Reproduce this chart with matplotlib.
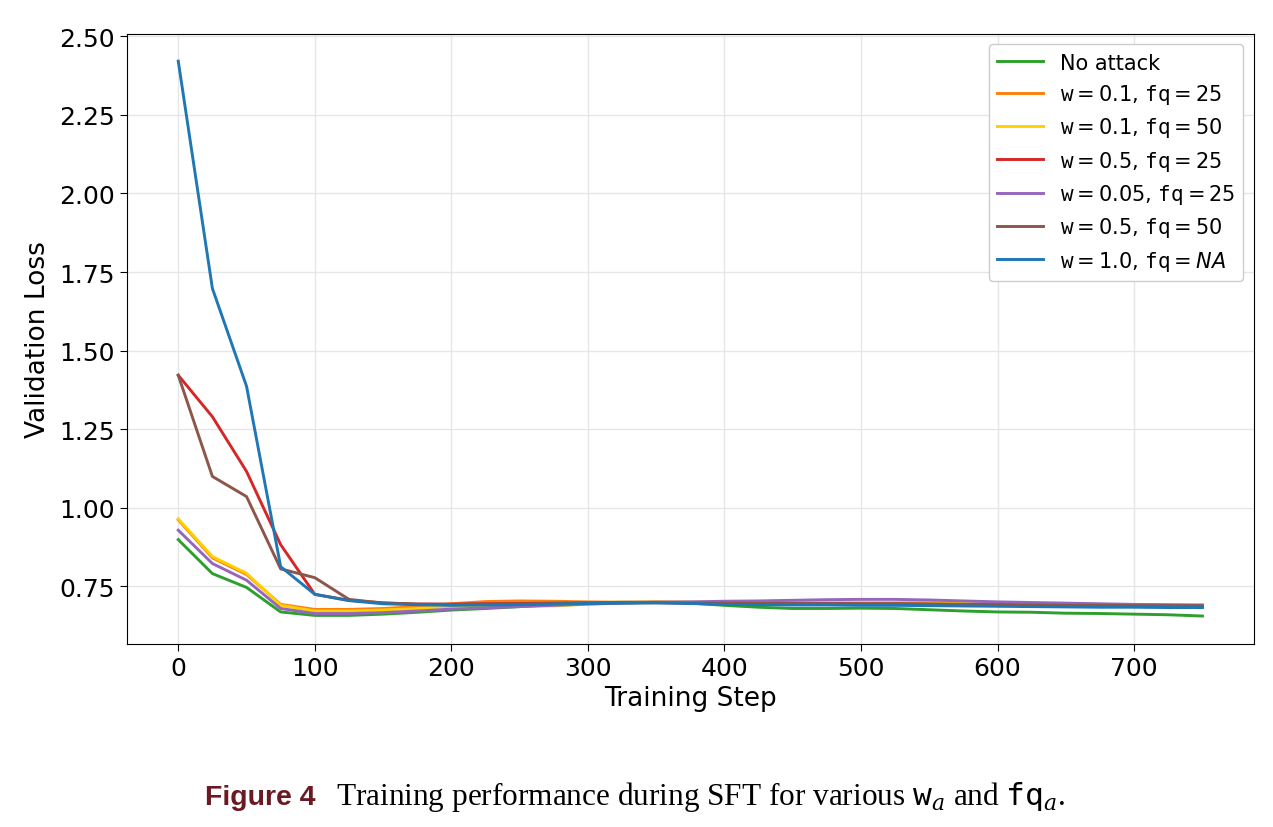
import matplotlib
matplotlib.use("Agg")
import matplotlib.pyplot as plt

steps = list(range(0, 751, 25))

labels = [
    "No attack",
    r"$\mathtt{w}=0.1$, $\mathtt{fq}=25$",
    r"$\mathtt{w}=0.1$, $\mathtt{fq}=50$",
    r"$\mathtt{w}=0.5$, $\mathtt{fq}=25$",
    r"$\mathtt{w}=0.05$, $\mathtt{fq}=25$",
    r"$\mathtt{w}=0.5$, $\mathtt{fq}=50$",
    r"$\mathtt{w}=1.0$, $\mathtt{fq}=NA$",
]
colors = ["#2ca02c", "#ff7f0e", "#ffd000", "#d62728", "#9467bd", "#8c564b", "#1f77b4"]

no_attack = [0.899, 0.791, 0.747, 0.669, 0.658, 0.658, 0.662, 0.668, 0.675, 0.680, 0.686,
             0.692, 0.697, 0.700, 0.700, 0.697, 0.690, 0.684, 0.680, 0.680, 0.681, 0.680,
             0.676, 0.672, 0.669, 0.668, 0.665, 0.664, 0.662, 0.660, 0.656]
w01_fq25 = [0.962, 0.841, 0.788, 0.693, 0.677, 0.677, 0.680, 0.686, 0.695, 0.702, 0.704,
            0.703, 0.701, 0.700, 0.701, 0.700, 0.699, 0.699, 0.699, 0.699, 0.699, 0.699,
            0.698, 0.696, 0.694, 0.693, 0.692, 0.691, 0.690, 0.690, 0.690]
w01_fq50 = [0.965, 0.845, 0.792, 0.690, 0.672, 0.672, 0.675, 0.680, 0.686, 0.688, 0.689,
            0.688, 0.694, 0.698, 0.700, 0.700, 0.700, 0.700, 0.701, 0.701, 0.700, 0.699,
            0.698, 0.696, 0.694, 0.693, 0.692, 0.691, 0.690, 0.690, 0.689]
w05_fq25 = [1.422, 1.290, 1.116, 0.883, 0.725, 0.706, 0.698, 0.694, 0.694, 0.695, 0.696,
            0.697, 0.698, 0.699, 0.699, 0.698, 0.697, 0.697, 0.696, 0.696, 0.695, 0.695,
            0.694, 0.693, 0.692, 0.691, 0.690, 0.689, 0.688, 0.688, 0.688]
w005_fq25 = [0.929, 0.823, 0.770, 0.680, 0.664, 0.664, 0.667, 0.672, 0.678, 0.682, 0.686,
             0.690, 0.694, 0.697, 0.700, 0.701, 0.703, 0.704, 0.706, 0.708, 0.709, 0.709,
             0.707, 0.704, 0.701, 0.699, 0.697, 0.695, 0.693, 0.692, 0.691]
w05_fq50 = [1.422, 1.100, 1.036, 0.806, 0.778, 0.709, 0.697, 0.694, 0.693, 0.694, 0.695,
            0.696, 0.697, 0.698, 0.698, 0.697, 0.697, 0.696, 0.696, 0.696, 0.695, 0.695,
            0.694, 0.693, 0.692, 0.691, 0.690, 0.690, 0.689, 0.689, 0.689]
w10_fqNA = [2.421, 1.698, 1.387, 0.813, 0.725, 0.705, 0.695, 0.692, 0.690, 0.691, 0.692,
            0.694, 0.696, 0.697, 0.698, 0.696, 0.693, 0.692, 0.691, 0.691, 0.690, 0.690,
            0.689, 0.688, 0.687, 0.686, 0.685, 0.684, 0.684, 0.683, 0.683]

series = [no_attack, w01_fq25, w01_fq50, w05_fq25, w005_fq25, w05_fq50, w10_fqNA]
yticks = [0.75, 1.00, 1.25, 1.50, 1.75, 2.00, 2.25, 2.50]

fig = plt.figure(figsize=(12.73, 8.28), dpi=100)
ax = fig.add_axes([0.0998, 0.221, 0.885, 0.737])

for vals, lab, col in zip(series, labels, colors):
    ax.plot(steps, vals, color=col, lw=2.1, label=lab)

ax.set_xticks(range(0, 701, 100))
ax.set_yticks(yticks)
ax.set_yticklabels([f"{v:.2f}" for v in yticks])
ax.tick_params(labelsize=18, length=5)
ax.set_xlabel("Training Step", fontsize=19, labelpad=4)
ax.set_ylabel("Validation Loss", fontsize=19, labelpad=6)
ax.grid(True, color="#e6e6e6", lw=1)
ax.set_axisbelow(True)
ax.set_ylim(0.567, 2.508)
ax.legend(loc="upper right", fontsize=15, framealpha=1, edgecolor="#cccccc",
          handlelength=2.2, labelspacing=0.45, borderaxespad=0.5)

fig.text(0.161, 0.028, "Figure 4", fontsize=20.5, fontweight="bold",
         color="#6b1a24", family=["Liberation Sans Narrow", "Liberation Sans"],
         ha="left", va="baseline")
fig.text(0.264, 0.028, r"Training performance during SFT for various $\mathtt{w}_{a}$ and $\mathtt{fq}_{a}$.",
         fontsize=22.5, family="Liberation Serif", math_fontfamily="dejavuserif",
         ha="left", va="baseline")

fig.savefig("out.png", dpi=100)
